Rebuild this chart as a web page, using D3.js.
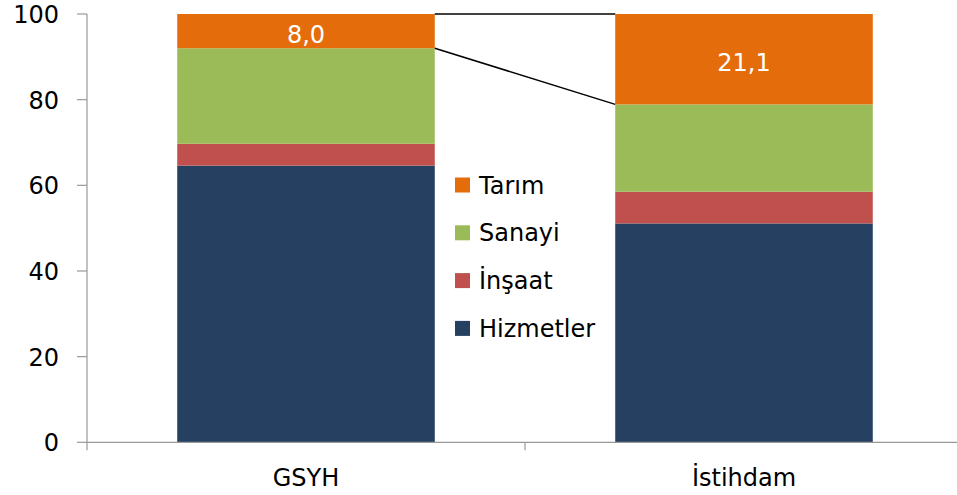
<!DOCTYPE html>
<html>
<head>
<meta charset="utf-8">
<script src="https://cdn.jsdelivr.net/npm/d3@7"></script>
<style>
  body { margin: 0; background: #fff; }
  text { font-family: "DejaVu Sans", sans-serif; }
</style>
</head>
<body>
<svg id="chart"></svg>
<script>
////////////////////////////
//  data
////////////////////////////
var categories = ['GSYH', 'İstihdam'];
var sectors = ['Hizmetler', 'İnşaat', 'Sanayi', 'Tarım'];
var hizmetler = [64.6, 51.1];
var insaat = [5.1, 7.4];
var sanayi = [22.3, 20.4];
var tarim = [8.0, 21.1];
var yTicks = [0, 20, 40, 60, 80, 100];

var colors = ['#254061', '#c0504d', '#9bbb59', '#e46c0a'];

var rows = categories.map((c, i) => ({
  cat: c,
  'Hizmetler': hizmetler[i],
  'İnşaat': insaat[i],
  'Sanayi': sanayi[i],
  'Tarım': tarim[i]
}));

////////////////////////////
//  setup
////////////////////////////
var width = 957, height = 495;
var mLeft = 87, mTop = 14, mBottom = 442.3;

var svg = d3.select('#chart')
  .attr('width', width)
  .attr('height', height);

var x = d3.scaleBand()
  .domain(categories)
  .range([mLeft, mLeft + 876])
  .padding(0);
var barW = x.bandwidth() * 0.588;

var y = d3.scaleLinear()
  .domain([0, 100])
  .range([mBottom, mTop]);

var color = d3.scaleOrdinal().domain(sectors).range(colors);

var stacked = d3.stack().keys(sectors)(rows);

//// bars
svg.append('g')
  .selectAll('g')
  .data(stacked)
  .enter()
  .append('g')
    .attr('fill', d => color(d.key))
  .selectAll('rect')
  .data(d => d)
  .enter()
  .append('rect')
    .attr('x', d => x(d.data.cat) + (x.bandwidth() - barW) / 2)
    .attr('y', d => y(d[1]))
    .attr('height', d => y(d[0]) - y(d[1]))
    .attr('width', barW);

//// connector lines between the tarım segments
var tarimLayer = stacked[stacked.length - 1];
var x1 = x(categories[0]) + (x.bandwidth() + barW) / 2;
var x2 = x(categories[1]) + (x.bandwidth() - barW) / 2;
[1, 0].forEach(k => {
  svg.append('line')
    .attr('x1', x1).attr('y1', y(tarimLayer[0][k]))
    .attr('x2', x2).attr('y2', y(tarimLayer[1][k]))
    .attr('stroke', '#000')
    .attr('stroke-width', 1.5);
});

//// tarım labels
svg.append('g')
  .selectAll('text')
  .data(tarimLayer)
  .enter()
  .append('text')
    .attr('x', d => x(d.data.cat) + x.bandwidth() / 2)
    .attr('y', d => (y(d[0]) + y(d[1])) / 2 + 12)
    .attr('text-anchor', 'middle')
    .attr('fill', '#fff')
    .attr('font-size', 24)
    .text(d => d3.format('.1f')(d.data['Tarım']).replace('.', ','));

//// y axis
var yAxis = svg.append('g');
yAxis.append('line')
  .attr('x1', mLeft).attr('x2', mLeft)
  .attr('y1', y(100)).attr('y2', y(0) + 8)
  .attr('stroke', '#999').attr('stroke-width', 1.2);
yAxis.selectAll('.yt')
  .data(yTicks)
  .enter()
  .append('line')
    .attr('x1', mLeft - 10).attr('x2', mLeft)
    .attr('y1', d => y(d)).attr('y2', d => y(d))
    .attr('stroke', '#999').attr('stroke-width', 1.2);
yAxis.selectAll('text')
  .data(yTicks)
  .enter()
  .append('text')
    .attr('x', 59)
    .attr('y', d => y(d) + 9)
    .attr('text-anchor', 'end')
    .attr('font-size', 24)
    .attr('fill', '#000')
    .text(d => d);

//// x axis
var xAxis = svg.append('g');
xAxis.append('line')
  .attr('x1', mLeft).attr('x2', width)
  .attr('y1', y(0)).attr('y2', y(0))
  .attr('stroke', '#999').attr('stroke-width', 1.2);
xAxis.selectAll('.xt')
  .data(categories.slice(1))
  .enter()
  .append('line')
    .attr('x1', d => x(d)).attr('x2', d => x(d))
    .attr('y1', y(0)).attr('y2', y(0) + 8)
    .attr('stroke', '#999').attr('stroke-width', 1.2);
xAxis.selectAll('text')
  .data(categories)
  .enter()
  .append('text')
    .attr('x', d => x(d) + x.bandwidth() / 2)
    .attr('y', 486)
    .attr('text-anchor', 'middle')
    .attr('font-size', 24)
    .attr('fill', '#000')
    .text(d => d);

//// legend
var legend = svg.append('g')
  .selectAll('g')
  .data(sectors.slice().reverse())
  .enter()
  .append('g')
    .attr('transform', (d, i) => `translate(455,${185 + i * 47.8})`);
legend.append('rect')
  .attr('x', 0).attr('y', -7.5)
  .attr('width', 15).attr('height', 15)
  .attr('fill', d => color(d));
legend.append('text')
  .attr('x', 24).attr('y', 8.5)
  .attr('font-size', 24)
  .attr('fill', '#000')
  .text(d => d);
</script>
</body>
</html>
